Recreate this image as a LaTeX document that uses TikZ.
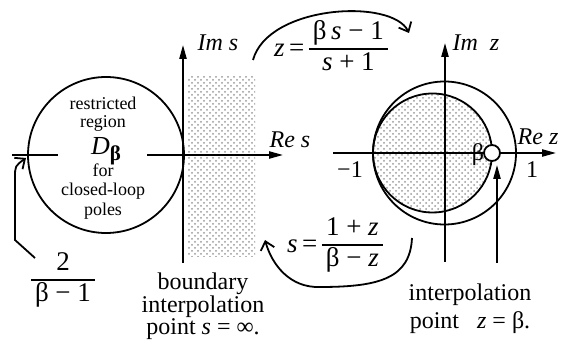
\documentclass[tikz,border=0pt]{standalone}
\usepackage{fontspec}
\setmainfont{Liberation Serif}
\usetikzlibrary{patterns,arrows.meta}
\newcommand{\frc}[2]{{\setlength{\tabcolsep}{2pt}\setlength{\arrayrulewidth}{0.7pt}\renewcommand{\arraystretch}{1.0}\begin{tabular}{c}#1\\\hline #2\end{tabular}}}
\tikzset{
  ax/.style={line width=0.9pt,-{Triangle[length=7pt,width=3.6pt]}},
  crv/.style={line width=0.9pt},
  barb/.style={line width=0.9pt,-{Straight Barb[length=4pt,width=7pt]}},
  dotfill/.style={pattern=crosshatch dots, pattern color=gray!80},
  lbl/.style={inner sep=0pt, font=\fontsize{12}{14}\selectfont},
  frm/.style={inner sep=0pt, font=\fontsize{13.5}{15}\selectfont},
  small/.style={inner sep=0pt, font=\fontsize{9}{10}\selectfont},
}
\begin{document}
\begin{tikzpicture}[x=0.5pt,y=-0.5pt]
\useasboundingbox (0,0) rectangle (562,347);
% shaded regions
\fill[dotfill] (188,77) rectangle (255,257);
\fill[dotfill] (432.5,153) circle [radius=59.5];
% coordinates
\coordinate (ims0) at (183,263);
\coordinate (ims1) at (183,45);
\coordinate (res0) at (147,155);
\coordinate (res1) at (283,155);
\coordinate (resL0) at (12,155);
\coordinate (resL1) at (58,155);
\coordinate (imz0) at (445,262);
\coordinate (imz1) at (445,43);
\coordinate (rez0) at (333,153);
\coordinate (rez1) at (556,153);
% s-plane
\draw[crv] (106,155) circle [radius=78];
\draw[ax] (ims0) -- (ims1);
\draw[ax] (res0) -- (res1);
\draw[crv] (resL0) -- (resL1);
% z-plane
\draw[ax] (imz0) -- (imz1);
\draw[ax] (rez0) -- (rez1);
\draw[crv] (444.5,153) circle [radius=71.5];
\draw[crv] (432.5,153) circle [radius=59.5];
\node[draw, line width=0.9pt, fill=white, circle, inner sep=0pt, minimum size=8pt] (bp) at (492,153) {};
% interpolation arrow
\coordinate (ip0) at (497,263);
\coordinate (ip1) at (497,165);
\draw[ax] (ip0) -- (ip1);
% left pointer arrow
\coordinate (lp0) at (35,258);
\coordinate (lp1) at (26,158);
\draw[barb] (lp0) -- (15,240) -- (15,178) .. controls (15,166) .. (lp1);
% mapping arrows
\coordinate (ta0) at (253,60);
\coordinate (ta1) at (409,33);
\draw[barb] (ta0) .. controls (268,5) and (392,-2) .. (ta1);
\coordinate (ba0) at (412,238);
\coordinate (ba1) at (265,240);
\draw[barb] (ba0) .. controls (410,278) and (380,287) .. (320,287) .. controls (290,288) and (272,265) .. (ba1);
% texts
\node[small] (t1) at (103,103) {restricted};
\node[small] (t2) at (103,123) {region};
\node[inner sep=0pt, font=\fontsize{13}{13}\selectfont] (t3) at (106,151) {\textit{D}\raisebox{-0.5ex}{\fontsize{10.5}{10.5}\selectfont\textbf{β}}};
\node[small] (t4) at (103,170) {for};
\node[small] (t5) at (103,191) {closed-loop};
\node[small] (t6) at (103,211) {poles};
\node[lbl] (ims) at (218,43) {\textit{Im s}};
\node[lbl] (res) at (290,140) {\textit{Re s}};
\node[frm] (frac1) at (63,280) {\frc{2}{β − 1}};
\node[lbl, align=center, font=\fontsize{12}{10.8}\selectfont] (bnd) at (203,306) {boundary\\interpolation\\point \textit{s} = ∞.};
\node[lbl] (imz) at (476,43) {\textit{Im\ \ z}};
\node[lbl] (rez) at (538,137) {\textit{Re z}};
\node[lbl] (beta) at (478,155) {β};
\node[lbl] (m1) at (350,170) {−1};
\node[lbl] (p1) at (532,170) {1};
\node[frm] (fz) at (331,49) {\textit{z}\,=\,\frc{β\,\textit{s} − 1}{\textit{s} + 1}};
\node[frm] (fs) at (335,245) {\textit{s}\,=\,\frc{1 + \textit{z}}{β − \textit{z}}};
\node[lbl, align=center, font=\fontsize{12}{14}\selectfont] (ipt) at (470,309) {interpolation\\point\ \ \ \textit{z} = β.};
\end{tikzpicture}
\end{document}
